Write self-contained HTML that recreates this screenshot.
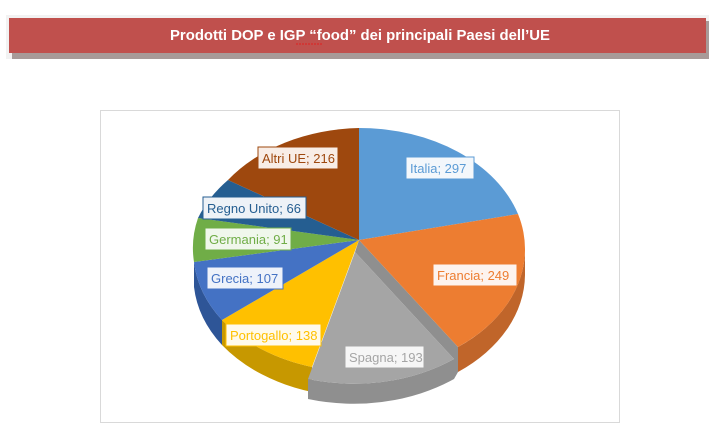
<!DOCTYPE html>
<html><head><style>
body{margin:0;width:728px;height:433px;background:#fff;overflow:hidden;font-family:"Liberation Sans",sans-serif}
</style></head><body>
<svg width="728" height="433" viewBox="0 0 728 433" xmlns="http://www.w3.org/2000/svg" font-family="Liberation Sans, sans-serif">
<rect x="6" y="15" width="703" height="44" fill="#f2f2f2"/>
<rect x="12" y="21" width="697" height="38" fill="#a89a98"/>
<rect x="9" y="18" width="697" height="35" fill="#c0504d"/>
<text x="360" y="40" text-anchor="middle" fill="#fff" font-size="15" font-weight="bold" textLength="380" lengthAdjust="spacingAndGlyphs">Prodotti DOP e IGP “food” dei principali Paesi dell’UE</text>
<line x1="296" y1="44" x2="323" y2="44" stroke="#e02020" stroke-width="1" stroke-dasharray="2,1"/>
<rect x="100.5" y="110.5" width="519" height="312" fill="#fff" stroke="#d9d9d9"/>
<g>
<path d="M525 250 A166 122 0 0 1 458 347 L458 372 A166 122 0 0 0 525 275 Z" fill="#c0652a"/>
<path d="M312 367 L312 392 A166 122 0 0 1 222 345 L222 320 A166 122 0 0 0 312 367Z" fill="#c79800"/>
<path d="M222 320 L222 345 A166 122 0 0 1 194 287 L194 262 A166 122 0 0 0 222 320Z" fill="#2e5597"/>
<path d="M359 240 L458 347 L458 372 L454 379 L454 359 L355 252 Z" fill="#8f8f8f"/>
<path d="M454 359 L454 379 A166 122 0 0 1 308 399 L308 379 A166 122 0 0 0 454 359Z" fill="#8f8f8f"/>
<path d="M359 240 L359 128 A166 122 0 0 1 518 214 Z" fill="#5b9bd5"/>
<path d="M359 240 L518 214 A166 122 0 0 1 458 347 Z" fill="#ed7d31"/>
<path d="M355 252 L454 359 A166 122 0 0 1 308 379 Z" fill="#a5a5a5"/>
<path d="M359 240 L312 367 A166 122 0 0 1 222 320 Z" fill="#ffc000"/>
<path d="M359 240 L222 320 A166 122 0 0 1 194 262 Z" fill="#4472c4"/>
<path d="M359 240 L194 262 A166 122 0 0 1 198 218 Z" fill="#70ad47"/>
<path d="M359 240 L198 218 A166 122 0 0 1 228 180 Z" fill="#255e91"/>
<path d="M359 240 L228 180 A166 122 0 0 1 359 128 Z" fill="#9e480e"/>
</g>
<g font-size="13">
<rect x="406" y="157" width="68" height="22" fill="#f3f7fb" stroke="#5b9bd5"/><text x="410" y="173" fill="#5b9bd5">Italia; 297</text>
<rect x="433" y="264" width="84" height="22" fill="#fdf3ee" stroke="#ed7d31"/><text x="437" y="280" fill="#ed7d31">Francia; 249</text>
<rect x="345" y="346" width="79" height="22" fill="#f6f6f6" stroke="#a5a5a5"/><text x="349" y="362" fill="#a5a5a5">Spagna; 193</text>
<rect x="226" y="324" width="95" height="22" fill="#fffaea" stroke="#ffc000"/><text x="230" y="340" fill="#ffc000">Portogallo; 138</text>
<rect x="207" y="267" width="76" height="22" fill="#eef2fa" stroke="#4472c4"/><text x="211" y="283" fill="#4472c4">Grecia; 107</text>
<rect x="205" y="228" width="86" height="22" fill="#f0f7ec" stroke="#70ad47"/><text x="209" y="244" fill="#70ad47">Germania; 91</text>
<rect x="203" y="197" width="103" height="22" fill="#eef2f7" stroke="#255e91"/><text x="207" y="213" fill="#255e91">Regno Unito; 66</text>
<rect x="258" y="147" width="80" height="22" fill="#f8ede6" stroke="#9e480e"/><text x="262" y="163" fill="#9e480e">Altri UE; 216</text>
</g>
</svg>
</body></html>
